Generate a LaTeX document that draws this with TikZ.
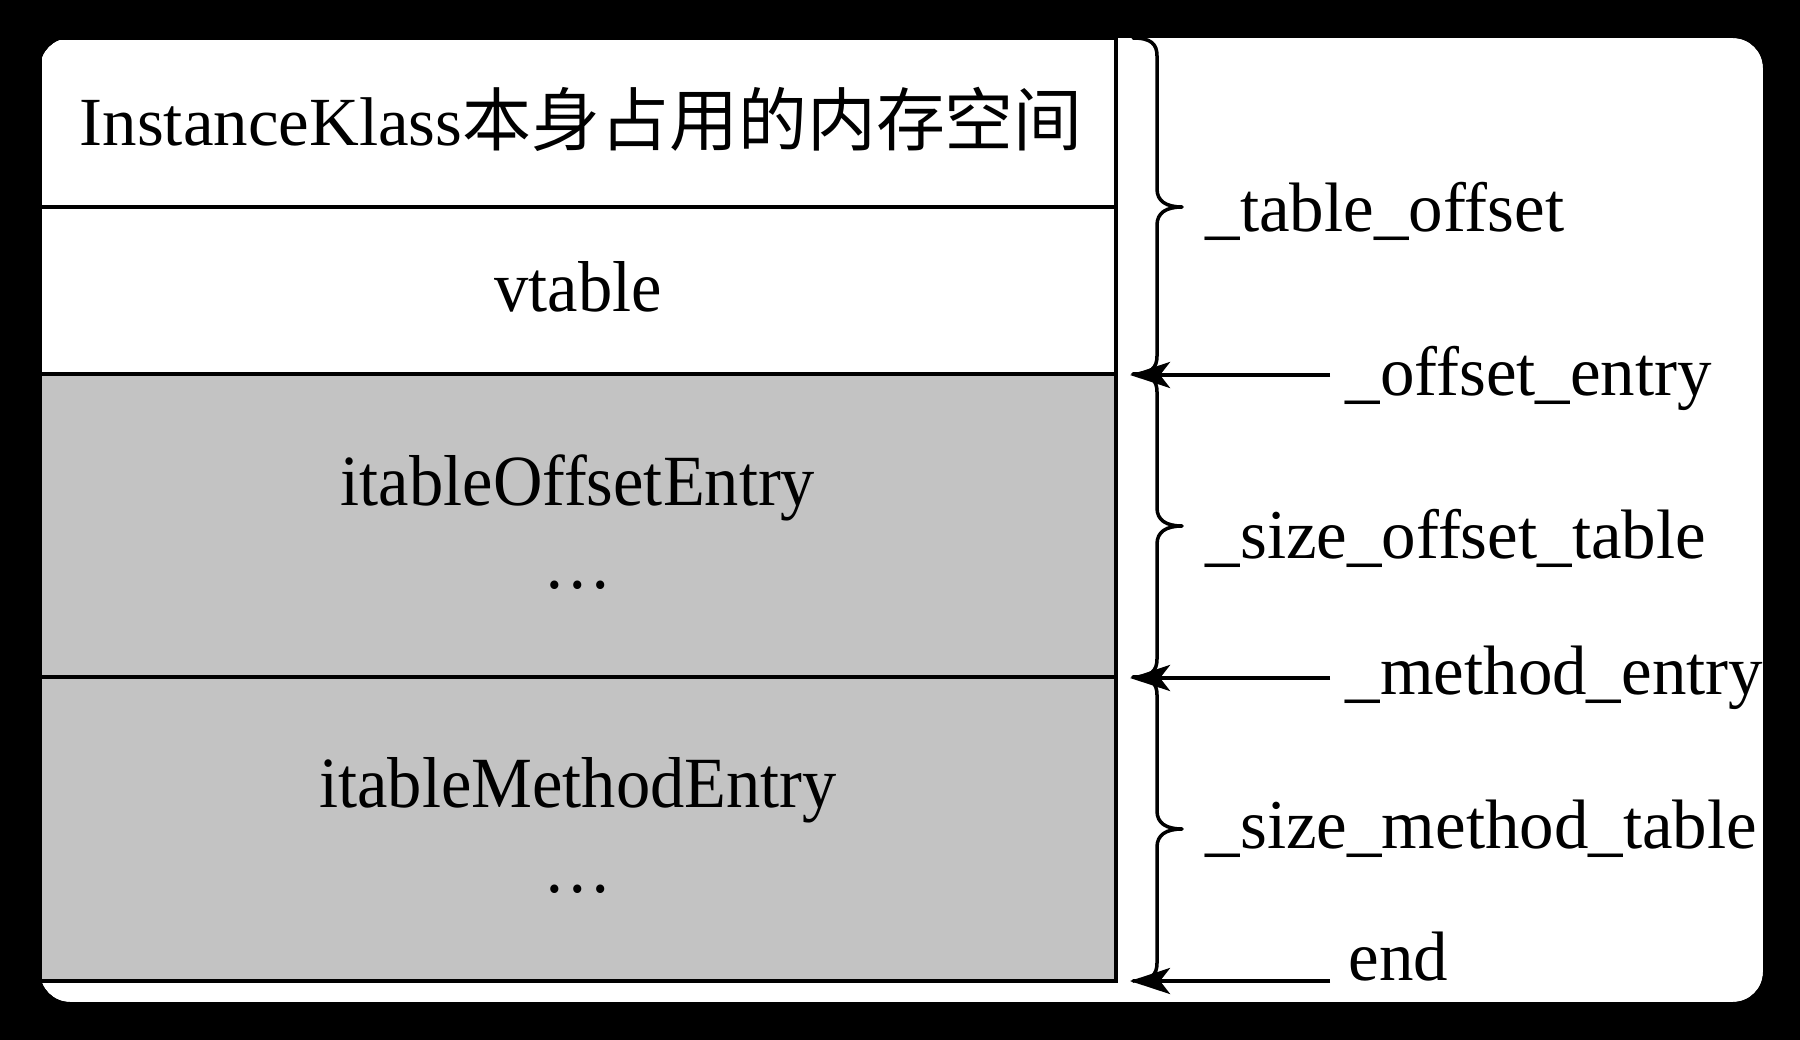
\documentclass[tikz,border=0pt]{standalone}
\usepackage{graphicx}
\usepackage{fontspec}
\setmainfont{Liberation Serif}
\newfontfamily\cjkfont{Noto Sans CJK SC}
\usetikzlibrary{arrows.meta}
\definecolor{cellgray}{RGB}{195,195,195}
\newcommand{\lblsq}[1]{\scalebox{0.985}[1]{#1}}
\newcommand{\cellsq}[1]{\scalebox{0.95}[1]{#1}}
\tikzset{
  cellline/.style={line width=1.2pt, draw=black},
  lbl/.style={anchor=base west, inner sep=0pt, font=\fontsize{19.9pt}{24pt}\selectfont},
  celltext/.style={anchor=base, inner sep=0pt, font=\fontsize{20.5pt}{24pt}\selectfont},
  bracepath/.style={line width=1pt, line cap=round, line join=round},
  ptr/.style={line width=1.2pt, -{Stealth[length=0.4cm,width=0.26cm,inset=0.1cm]}}
}
\begin{document}
\begin{tikzpicture}[x=0.01cm,y=-0.01cm]
% background and white card
\fill[black] (0,0) rectangle (1800,1040);
\fill[white, rounded corners=0.3cm] (40,38) rectangle (1763,1002);
% table
\fill[cellgray] (40,374) rectangle (1116,981);
\draw[cellline] (40,38) rectangle (1116,981);
\draw[cellline] (40,207) -- (1116,207);
\draw[cellline] (40,374) -- (1116,374);
\draw[cellline] (40,677) -- (1116,677);
% cell texts
\node[anchor=base west, inner sep=0pt, font=\fontsize{19.6pt}{24pt}\selectfont] (title) at (79,146)
  {InstanceKlass{\cjkfont 本身占用的内存空间}};
\node[celltext] (vt) at (578,312) {\cellsq{vtable}};
\node[celltext] (ioe) at (578,505) {\cellsq{itableOffsetEntry}};
\node[celltext] (dots1) at (578,588) {\cellsq{…}};
\node[celltext] (ime) at (578,807) {\cellsq{itableMethodEntry}};
\node[celltext] (dots2) at (578,892) {\cellsq{…}};
% braces
\draw[bracepath] (1133,38) .. controls (1151,38) and (1157,44) .. (1157,56)
  -- (1157,189) .. controls (1157,201) and (1166,207) .. (1182,207)
  .. controls (1166,207) and (1157,213) .. (1157,225)
  -- (1157,356) .. controls (1157,368) and (1151,374) .. (1133,374);
\draw[bracepath] (1133,374) .. controls (1151,374) and (1157,380) .. (1157,392)
  -- (1157,508) .. controls (1157,520) and (1166,526) .. (1182,526)
  .. controls (1166,526) and (1157,532) .. (1157,544)
  -- (1157,659) .. controls (1157,671) and (1151,677) .. (1133,677);
\draw[bracepath] (1133,677) .. controls (1151,677) and (1157,683) .. (1157,695)
  -- (1157,811) .. controls (1157,823) and (1166,829) .. (1182,829)
  .. controls (1166,829) and (1157,835) .. (1157,847)
  -- (1157,963) .. controls (1157,975) and (1151,981) .. (1133,981);
% labels
\node[lbl] (tOff) at (1205,232) {\lblsq{\_table\_offset}};
\node[lbl] (oEnt) at (1345,396) {\lblsq{\_offset\_entry}};
\node[lbl] (sOff) at (1205,558) {\lblsq{\_size\_offset\_table}};
\node[lbl] (mEnt) at (1345,694) {\lblsq{\_method\_entry}};
\node[lbl] (sMet) at (1205,848) {\lblsq{\_size\_method\_table}};
\node[lbl] (endl) at (1348,980) {\lblsq{end}};
% arrows
\coordinate (oeS) at (1330,375); \coordinate (oeT) at (1130,375);
\coordinate (meS) at (1330,678); \coordinate (meT) at (1130,678);
\coordinate (enS) at (1330,981); \coordinate (enT) at (1130,981);
\draw[ptr] (oeS) -- (oeT);
\draw[ptr] (meS) -- (meT);
\draw[ptr] (enS) -- (enT);
% black frame on top (clips overflowing text)
\fill[black, even odd rule] (0,0) rectangle (1800,1040)
  [rounded corners=0.3cm] (40,38) rectangle (1763,1002);
\end{tikzpicture}
\end{document}
